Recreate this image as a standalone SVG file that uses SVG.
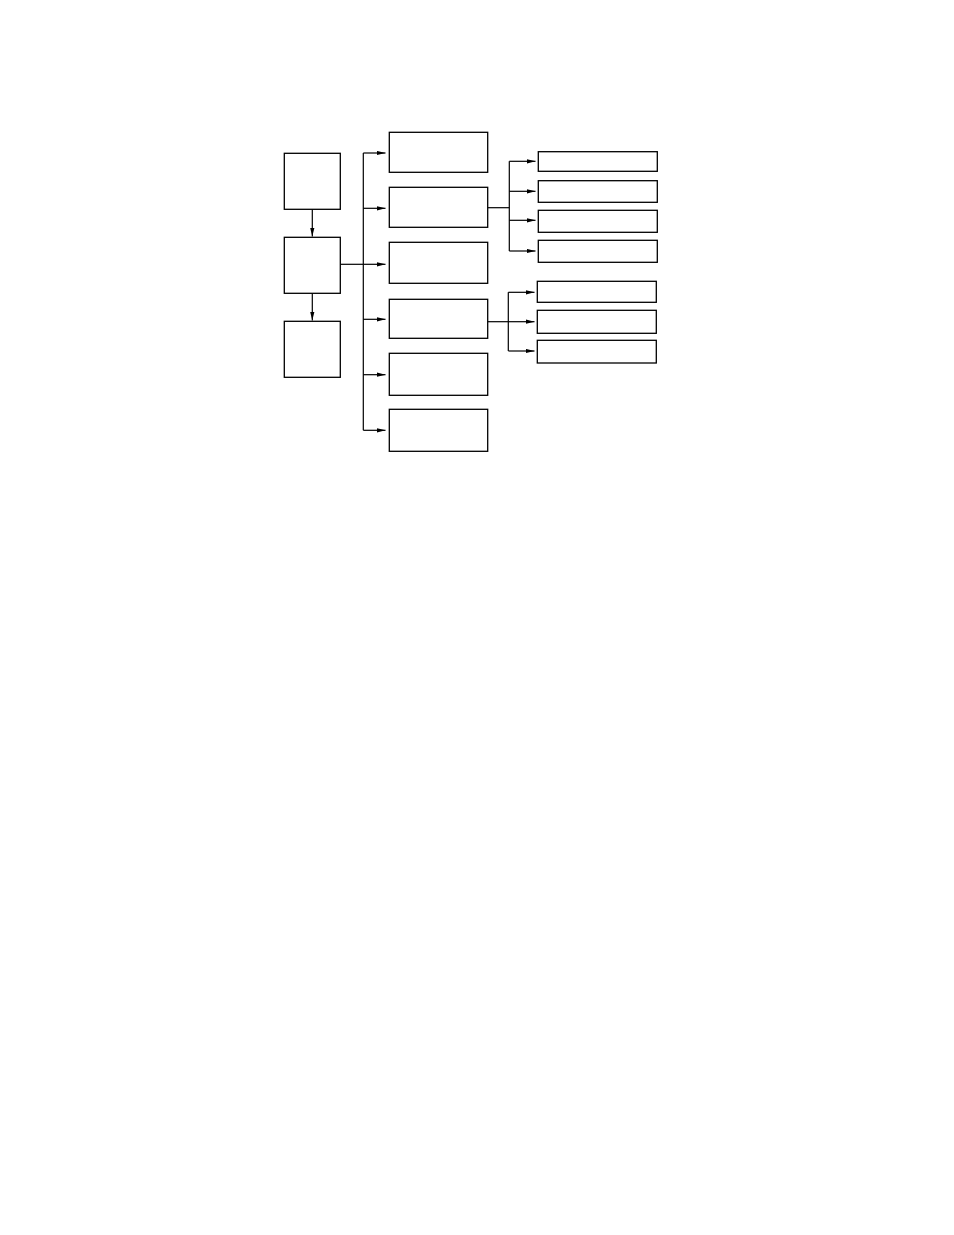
<svg xmlns="http://www.w3.org/2000/svg" width="954" height="1235" viewBox="0 0 954 1235">
<defs>
<style>
.box{fill:#fff;stroke:#000;stroke-width:1.3}
.ln{fill:none;stroke:#000;stroke-width:1.2}
</style>
<marker id="ah" markerUnits="userSpaceOnUse" markerWidth="10" markerHeight="6" refX="9" refY="2.5" orient="auto">
<path d="M0,0.3 L9,2.5 L0,4.7 z" fill="#000"/>
</marker>
</defs>
<rect width="954" height="1235" fill="#fff"/>
<g id="connectors">
<path class="ln" d="M312.3,209.3 V236.5" marker-end="url(#ah)"/>
<path class="ln" d="M312.3,293.3 V320.5" marker-end="url(#ah)"/>
<path class="ln" d="M340.3,264.3 H363.3"/>
<path class="ln" d="M363.3,153 V430.3"/>
<path class="ln" d="M363.3,153 H385.5" marker-end="url(#ah)"/>
<path class="ln" d="M363.3,208.3 H385.5" marker-end="url(#ah)"/>
<path class="ln" d="M363.3,264.3 H385.5" marker-end="url(#ah)"/>
<path class="ln" d="M363.3,319.3 H385.5" marker-end="url(#ah)"/>
<path class="ln" d="M363.3,374.7 H385.5" marker-end="url(#ah)"/>
<path class="ln" d="M363.3,430.3 H385.5" marker-end="url(#ah)"/>
<path class="ln" d="M487.7,207.7 H509.3"/>
<path class="ln" d="M509.3,161.3 V251"/>
<path class="ln" d="M509.3,161.3 H535.5" marker-end="url(#ah)"/>
<path class="ln" d="M509.3,191.3 H535.5" marker-end="url(#ah)"/>
<path class="ln" d="M509.3,220.3 H535.5" marker-end="url(#ah)"/>
<path class="ln" d="M509.3,251 H535.5" marker-end="url(#ah)"/>
<path class="ln" d="M487.7,321.7 H508.3"/>
<path class="ln" d="M508.3,292.3 V351"/>
<path class="ln" d="M508.3,292.3 H534.5" marker-end="url(#ah)"/>
<path class="ln" d="M508.3,321.7 H534.5" marker-end="url(#ah)"/>
<path class="ln" d="M508.3,351 H534.5" marker-end="url(#ah)"/>
</g>
<g id="n1"><rect class="box" x="284.3" y="153.3" width="56" height="56"/></g>
<g id="n2"><rect class="box" x="284.3" y="237.3" width="56" height="56"/></g>
<g id="n3"><rect class="box" x="284.3" y="321.3" width="56" height="56"/></g>
<g id="m1"><rect class="box" x="389.3" y="132.3" width="98.4" height="40"/></g>
<g id="m2"><rect class="box" x="389.3" y="187.3" width="98.4" height="40"/></g>
<g id="m3"><rect class="box" x="389.3" y="242.3" width="98.4" height="41"/></g>
<g id="m4"><rect class="box" x="389.3" y="299.3" width="98.4" height="39"/></g>
<g id="m5"><rect class="box" x="389.3" y="353.3" width="98.4" height="42"/></g>
<g id="m6"><rect class="box" x="389.3" y="409.3" width="98.4" height="42"/></g>
<g id="r1"><rect class="box" x="538.3" y="151.7" width="119" height="19.6"/></g>
<g id="r2"><rect class="box" x="538.3" y="180.7" width="119" height="21.6"/></g>
<g id="r3"><rect class="box" x="538.3" y="210.3" width="119" height="22"/></g>
<g id="r4"><rect class="box" x="538.3" y="240.3" width="119" height="22"/></g>
<g id="r5"><rect class="box" x="537.3" y="281.3" width="119" height="21"/></g>
<g id="r6"><rect class="box" x="537.3" y="310.3" width="119" height="23"/></g>
<g id="r7"><rect class="box" x="537.3" y="340.3" width="119" height="22.7"/></g>
</svg>
